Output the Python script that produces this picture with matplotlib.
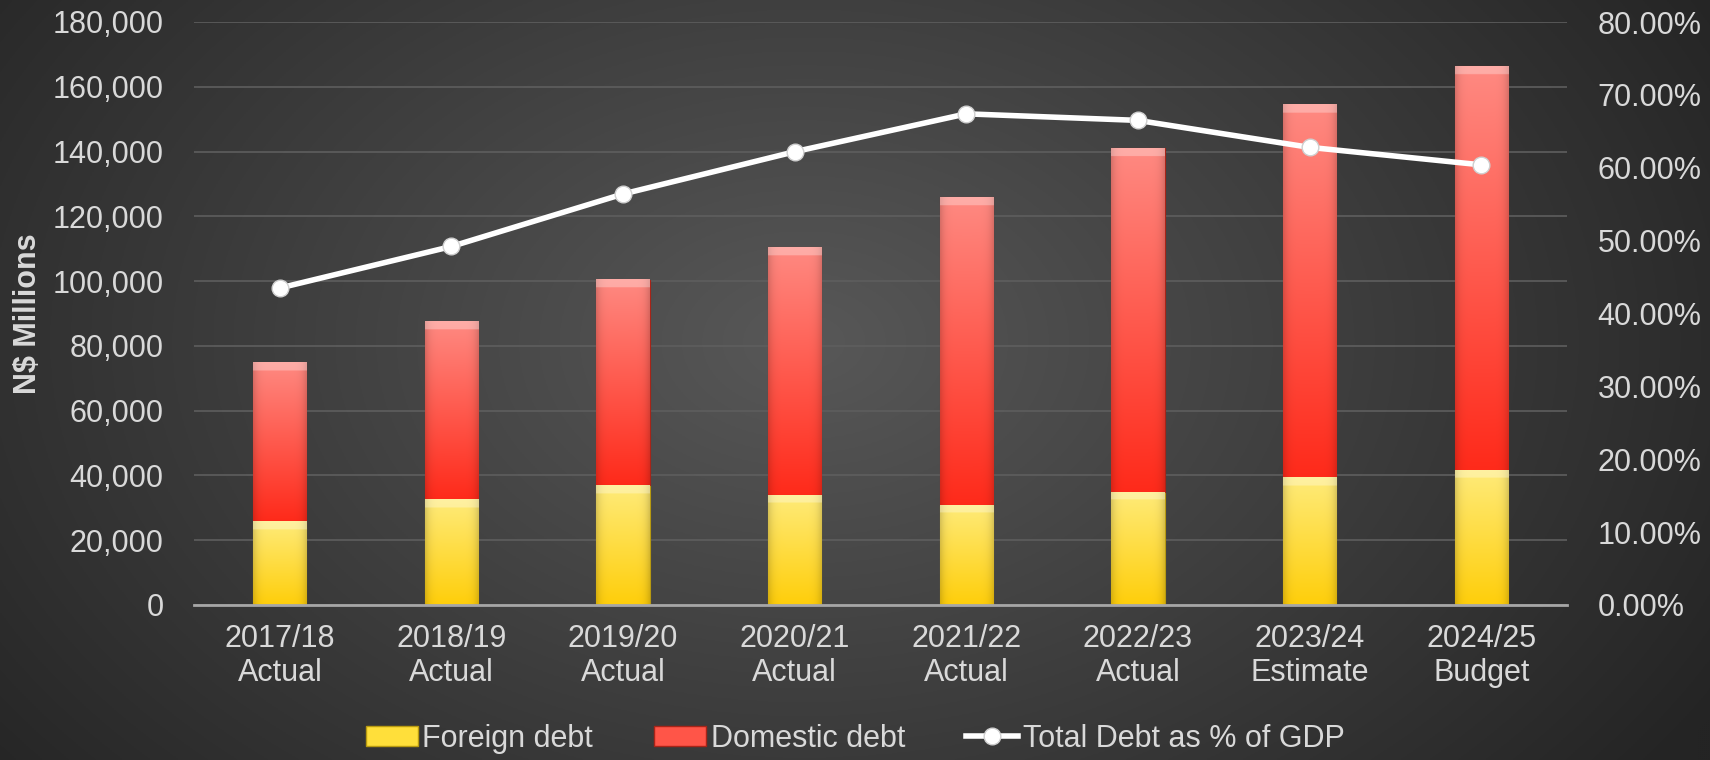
import matplotlib
matplotlib.use("Agg")
import matplotlib.pyplot as plt
import numpy as np
from matplotlib.colors import to_rgb
from matplotlib.lines import Line2D
from matplotlib.patches import Patch
from matplotlib.ticker import FuncFormatter

YEARS = ["2017/18", "2018/19", "2019/20", "2020/21", "2021/22", "2022/23", "2023/24", "2024/25"]
STAGES = ["Actual", "Actual", "Actual", "Actual", "Actual", "Actual", "Estimate", "Budget"]
FOREIGN = [25900, 32700, 37000, 34000, 31000, 35000, 39400, 41750]
DOMESTIC = [48850, 54800, 63300, 76400, 94900, 106100, 115100, 124550]
DEBT_GDP = [43.5, 49.2, 56.4, 62.2, 67.4, 66.5, 62.8, 60.4]

TEXT = "#d9d9d9"

plt.rcParams["font.family"] = ["Liberation Sans", "DejaVu Sans"]
plt.rcParams["font.size"] = 22


def shade_bars(ax, bars, top_color, bottom_color, bevel):
    """Fill each bar with a vertical gradient and a light top bevel."""
    top = np.array(to_rgb(top_color))
    bot = np.array(to_rgb(bottom_color))
    for rect in bars:
        x0, y0 = rect.get_x(), rect.get_y()
        w, h = rect.get_width(), rect.get_height()
        rows, cols = 300, 40
        t = (np.arange(rows)[:, None] + 0.5) / rows
        u = (np.arange(cols)[None, :] + 0.5) / cols
        img = bot + (top - bot) * t[..., None]
        img = np.broadcast_to(img, (rows, cols, 3)).copy()
        edge = 1 - 0.18 * (np.abs(u - 0.5) * 2) ** 6
        img *= edge[..., None]
        depth = (1 - t) * h
        band = (depth < bevel)[:, 0]
        img[band] = img[band] + (1 - img[band]) * 0.3
        ax.imshow(np.clip(img, 0, 1), extent=(x0, x0 + w, y0, y0 + h), origin="lower",
                  aspect="auto", zorder=2, clip_path=rect, clip_on=True, interpolation="bilinear")


fig = plt.figure(figsize=(17.1, 7.6), dpi=100)

# radial dark background
bg = fig.add_axes([0, 0, 1, 1], zorder=-10)
gy, gx = np.mgrid[0:1:380j, 0:1:855j]
d = np.sqrt(((gx - 0.47) / 0.62) ** 2 + ((gy - 0.55) / 0.95) ** 2)
d = np.clip(d, 0, 1)
c_in, c_out = np.array(to_rgb("#585858")), np.array(to_rgb("#242424"))
bg.imshow(c_in + (c_out - c_in) * d[..., None], extent=(0, 1, 0, 1), origin="lower", aspect="auto")
bg.set_axis_off()

ax = fig.add_axes([194 / 1710, 1 - 605 / 760, 1373 / 1710, 583 / 760])
ax.set_facecolor("none")
x = np.arange(len(YEARS))
width = 0.31

b1 = ax.bar(x, FOREIGN, width, color="#FFD400", edgecolor="#b89a10", linewidth=0.8, zorder=2)
b2 = ax.bar(x, DOMESTIC, width, bottom=FOREIGN, color="#FF3020", edgecolor="#a82418",
            linewidth=0.8, zorder=2)
shade_bars(ax, b1, "#FFEB7A", "#FFCE0A", 2600)
shade_bars(ax, b2, "#FF8A82", "#FF2A1A", 2600)

ax.set_xlim(-0.5, len(YEARS) - 0.5)
ax.set_ylim(0, 180000)
ax.set_yticks(np.arange(0, 180001, 20000))
ax.yaxis.set_major_formatter(FuncFormatter(lambda v, p: f"{v:,.0f}"))
ax.set_xticks(x, [f"{y}\n{s}" for y, s in zip(YEARS, STAGES)], linespacing=1.15)
ax.grid(axis="y", color="#5e5e5e", linewidth=1.2, zorder=0)
ax.set_axisbelow(True)
for side in ["top", "right", "left"]:
    ax.spines[side].set_visible(False)
ax.spines["bottom"].set_color("#a6a6a6")
ax.spines["bottom"].set_linewidth(2)
ax.spines["bottom"].set_zorder(4)
ax.tick_params(axis="both", length=0, colors=TEXT, labelsize=22)
ax.tick_params(axis="y", pad=22)
ax.tick_params(axis="x", pad=14)
ax.set_ylabel("N\\$ Millions", color=TEXT, fontsize=22, fontweight="bold")
ax.yaxis.set_label_coords(-0.11, 0.5)

ax2 = ax.twinx()
ax2.set_facecolor("none")
ax2.plot(x, DEBT_GDP, color="white", linewidth=4, marker="o", markersize=12,
         markerfacecolor="white", markeredgecolor="#cfcfcf", markeredgewidth=1, zorder=5)
ax2.set_ylim(0, 80)
ax2.set_yticks(np.arange(0, 81, 10))
ax2.yaxis.set_major_formatter(FuncFormatter(lambda v, p: f"{v:.2f}%"))
ax2.tick_params(axis="y", length=0, colors=TEXT, labelsize=22, pad=22)
for side in ["top", "right", "left", "bottom"]:
    ax2.spines[side].set_visible(False)

handles = [
    Patch(facecolor="#FFDF3A", edgecolor="#b89a10", label="Foreign debt"),
    Patch(facecolor="#FF5548", edgecolor="#a82418", label="Domestic debt"),
    Line2D([], [], color="white", linewidth=4, marker="o", markersize=12,
           markerfacecolor="white", markeredgecolor="#cfcfcf", label="Total Debt as % of GDP"),
]
fig.legend(handles=handles, loc="center", bbox_to_anchor=(0.5, 0.028), ncol=3, frameon=False,
           fontsize=22, labelcolor=TEXT, handlelength=1.7, handleheight=0.6, handletextpad=0.15,
           columnspacing=2.0)

fig.savefig("out.png", dpi=100)
